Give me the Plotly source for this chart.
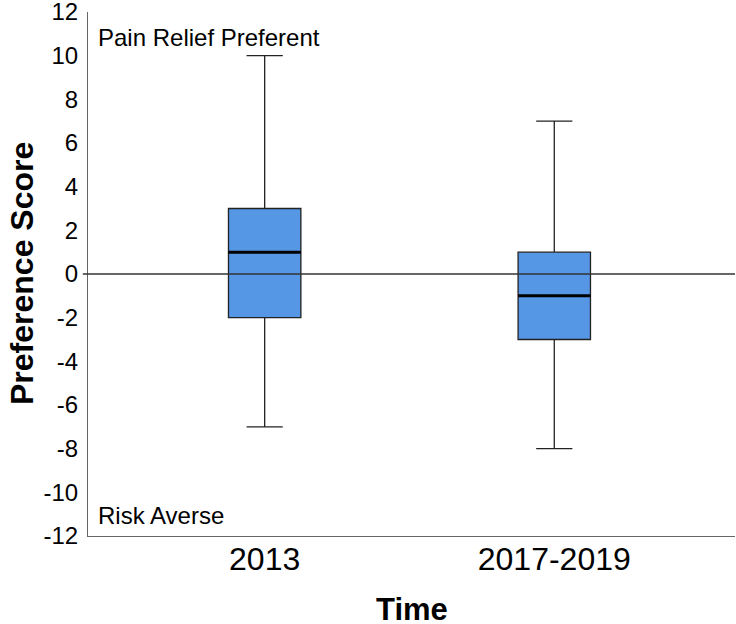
import plotly.graph_objects as go

categories = ["2013", "2017-2019"]
q1 = [-2, -3]
median = [1, -1]
q3 = [3, 1]
lower = [-7, -8]
upper = [10, 7]
y_ticks = list(range(-12, 13, 2))
y_tick_text = [str(v) for v in y_ticks]

positions = list(range(len(categories)))
box_w = 0.25
fill = "#5596E5"

fig = go.Figure()
fig.add_trace(go.Box(
    x=positions, q1=q1, median=median, q3=q3,
    lowerfence=lower, upperfence=upper,
    width=box_w, whiskerwidth=0.5,
    fillcolor=fill, line=dict(color="#222222", width=1.3),
    boxpoints=False, showlegend=False, hoverinfo="skip",
))

shapes = [dict(type="line", xref="paper", yref="y", x0=-0.008, x1=1, y0=0, y1=0,
               line=dict(color="#333333", width=1.5), layer="above")]
for p, m in zip(positions, median):
    shapes.append(dict(type="line", xref="x", yref="y", x0=p - box_w / 2, x1=p + box_w / 2,
                       y0=m, y1=m, line=dict(color="black", width=3), layer="above"))

fig.update_layout(
    width=736, height=624,
    margin=dict(l=88, r=1, t=12, b=88, autoexpand=False),
    paper_bgcolor="white", plot_bgcolor="white",
    font=dict(family="Liberation Sans, Arial, sans-serif", color="black"),
    shapes=shapes,
    xaxis=dict(range=[-0.61, 1.624], tickvals=positions, ticktext=categories,
               tickfont=dict(size=32), showgrid=False, zeroline=False,
               showline=True, linecolor="#666666", linewidth=1.2, ticks="",
               ticklabelstandoff=-6, automargin=False, ticklabeloverflow="allow"),
    yaxis=dict(range=[-12, 12], tickvals=y_ticks, ticktext=y_tick_text, tickfont=dict(size=24),
               showgrid=False, zeroline=False, showline=True, linecolor="#666666",
               linewidth=1.2, ticks="", ticklabelstandoff=4, automargin=False,
               ticklabeloverflow="allow"),
    annotations=[
        dict(text="Pain Relief Preferent", xref="paper", yref="y", x=0.013, y=10.85,
             xanchor="left", yanchor="middle", showarrow=False, font=dict(size=24)),
        dict(text="Risk Averse", xref="paper", yref="y", x=0.013, y=-11.05,
             xanchor="left", yanchor="middle", showarrow=False, font=dict(size=24)),
        dict(text="<b>Time</b>", xref="paper", yref="paper", x=0.5, y=-0.14,
             xanchor="center", yanchor="middle", showarrow=False, font=dict(size=31)),
        dict(text="<b>Preference Score</b>", xref="paper", yref="paper", x=-0.102, y=0.5,
             xanchor="center", yanchor="middle", textangle=-90, showarrow=False,
             font=dict(size=32)),
    ],
)

fig.write_html("out.html", config={"displayModeBar": False},
               post_script="document.body.style.margin='0px';")
